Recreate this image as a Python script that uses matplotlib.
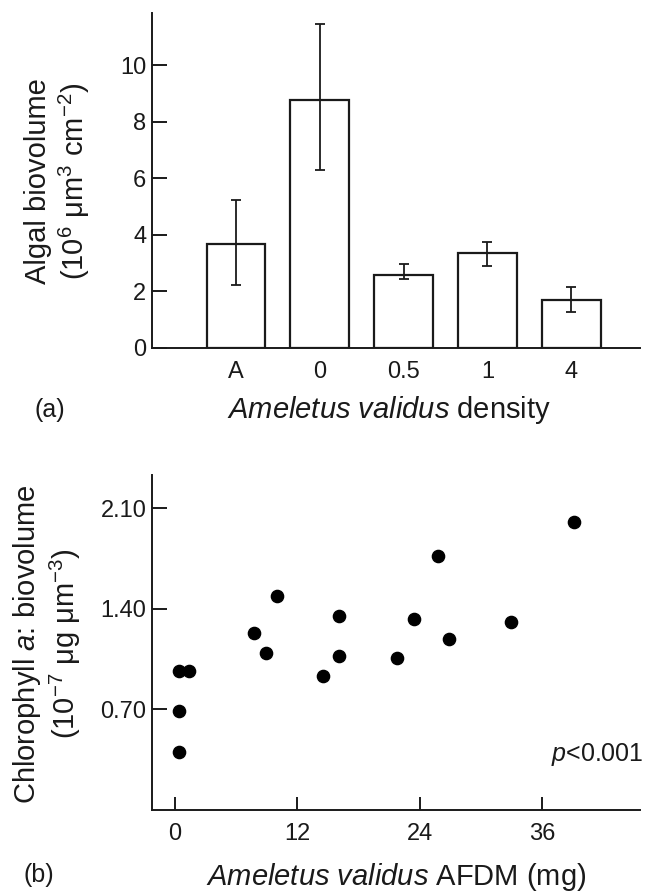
import matplotlib
matplotlib.use("Agg")
import matplotlib.pyplot as plt
import numpy as np

plt.rcParams['font.family'] = ['Liberation Sans', 'DejaVu Sans']
plt.rcParams['mathtext.fontset'] = 'custom'
plt.rcParams['mathtext.rm'] = 'Liberation Sans'
plt.rcParams['mathtext.it'] = 'Liberation Sans:italic'
plt.rcParams['mathtext.bf'] = 'Liberation Sans:bold'

# ---- data (a) ----
categories = ['A', '0', '0.5', '1', '4']
biovolume = [3.67, 8.76, 2.59, 3.34, 1.70]
err_upper = [5.23, 11.45, 2.97, 3.73, 2.16]
err_lower = [2.22, 6.29, 2.43, 2.91, 1.26]

# ---- data (b) ----
afdm = [0.42, 1.4, 0.42, 0.42, 7.75, 8.9, 9.98, 14.5, 16.1, 16.1,
        21.8, 23.4, 25.8, 26.9, 32.9, 39.1]
chl_ratio = [0.97, 0.97, 0.69, 0.40, 1.23, 1.09, 1.49, 0.93, 1.35, 1.07,
             1.055, 1.33, 1.77, 1.19, 1.31, 2.00]
b_xticks = [0, 12, 24, 36]
b_yticks = [0.70, 1.40, 2.10]

W, H = 647, 892
fig = plt.figure(figsize=(W / 100, H / 100), dpi=100)

def fx(px):
    return px / W

def fy(py):
    return 1 - py / H

ink = '#1a1a1a'
TICK_FS = 17
LABEL_FS = 21

# ---------- panel (a) ----------
ax1 = fig.add_axes([fx(152), fy(348), fx(640) - fx(152), fy(13) - fy(348)])
xpos = np.arange(len(categories))
means = np.array(biovolume)
yerr = np.vstack([means - np.array(err_lower), np.array(err_upper) - means])
ax1.bar(xpos, means, width=0.7, color='white', edgecolor=ink, linewidth=1.6, zorder=2)
ax1.errorbar(xpos, means, yerr=yerr, fmt='none', ecolor=ink, elinewidth=1.3,
             capsize=3.5, capthick=1.3, zorder=3)
ax1.set_xlim(-1.0, 4.82)
ax1.set_ylim(0, 11.84)
ax1.set_xticks(xpos)
ax1.set_xticklabels(categories)
ax1.set_yticks([0, 2, 4, 6, 8, 10])
ax1.tick_params(axis='y', direction='in', length=11, width=1.4, pad=4,
                labelsize=TICK_FS, colors=ink)
ax1.tick_params(axis='x', length=0, pad=9, labelsize=TICK_FS, colors=ink)
for s in ['top', 'right']:
    ax1.spines[s].set_visible(False)
for s in ['left', 'bottom']:
    ax1.spines[s].set_linewidth(1.4)
    ax1.spines[s].set_color(ink)

fig.text(fx(58), fy(181), 'Algal biovolume\n(10$^{6}$ μm$^{3}$ cm$^{-2}$)',
         rotation=90, ha='center', va='center', fontsize=LABEL_FS,
         linespacing=1.15, multialignment='center', color=ink)
fig.text(fx(389), fy(410), r'$\mathit{Ameletus\ validus}$ density',
         ha='center', va='center', fontsize=LABEL_FS, color=ink)
fig.text(fx(50), fy(410), '(a)', ha='center', va='center', fontsize=18, color=ink)

# ---------- panel (b) ----------
ax2 = fig.add_axes([fx(152), fy(810), fx(640) - fx(152), fy(475) - fy(810)])
ax2.plot(afdm, chl_ratio, 'o', color='black', markersize=8.8, zorder=3)
ax2.set_xlim(-2.26, 45.6)
ax2.set_ylim(0, 2.33)
ax2.set_xticks(b_xticks)
ax2.set_xticklabels([str(v) for v in b_xticks])
ax2.set_yticks(b_yticks)
ax2.set_yticklabels(['%.2f' % v for v in b_yticks])
ax2.tick_params(axis='both', direction='in', length=9.5, width=1.4,
                labelsize=TICK_FS, colors=ink)
ax2.tick_params(axis='y', pad=4, length=11)
ax2.tick_params(axis='x', pad=9)
for s in ['top', 'right']:
    ax2.spines[s].set_visible(False)
for s in ['left', 'bottom']:
    ax2.spines[s].set_linewidth(1.4)
    ax2.spines[s].set_color(ink)

ax2.text((643 - 152) / 488, (810 - 755) / 335, r'$\mathit{p}$<0.001',
         transform=ax2.transAxes, ha='right', va='center', fontsize=18, color=ink)

fig.text(fx(47), fy(644), 'Chlorophyll $\\mathit{a}$: biovolume\n(10$^{-7}$ μg μm$^{-3}$)',
         rotation=90, ha='center', va='center', fontsize=LABEL_FS,
         linespacing=1.2, multialignment='center', color=ink)
fig.text(fx(396), fy(877), r'$\mathit{Ameletus\ validus}$ AFDM (mg)',
         ha='center', va='center', fontsize=LABEL_FS, color=ink)
fig.text(fx(39), fy(875), '(b)', ha='center', va='center', fontsize=18, color=ink)

fig.savefig('out.png', dpi=100, facecolor='white')
